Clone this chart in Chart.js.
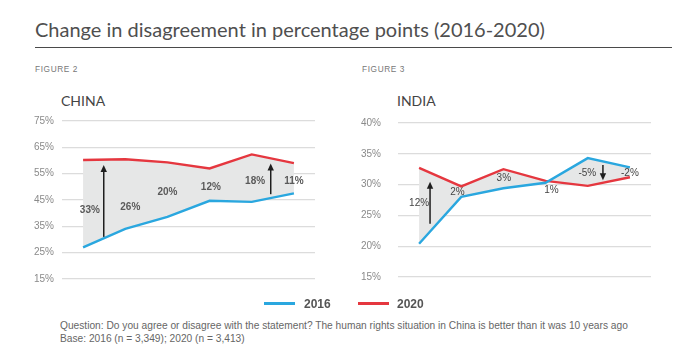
<!DOCTYPE html>
<html>
<head>
<meta charset="utf-8">
<script src="https://cdn.jsdelivr.net/npm/chart.js@4/dist/chart.umd.min.js"></script>
<style>
  html, body { margin:0; padding:0; background:#fff; }
  body { width:700px; height:359px; position:relative; overflow:hidden; font-family:"Liberation Sans", Arial, sans-serif; }
  .abs { position:absolute; white-space:nowrap; }
  #title { left:35px; top:17px; font-family:Lato, sans-serif; font-size:20px; color:#4f4f4f; }
  #rule { left:35px; top:47px; width:637px; height:0; border-top:1.5px solid #4a4a4a; }
  .fig { top:64px; font-size:8.3px; color:#777; letter-spacing:0.6px; }
  .country { top:92px; font-family:Lato, sans-serif; font-size:14px; color:#444; }
  canvas { position:absolute; }
  .leg-line { position:absolute; height:3px; top:302px; width:31px; }
  .leg-txt { top:297px; font-weight:bold; font-size:12px; color:#555; }
  .note { left:60px; font-size:10.2px; color:#666; }
</style>
</head>
<body>
<div class="abs" id="title">Change in disagreement in percentage points (2016-2020)</div>
<div class="abs" id="rule"></div>
<div class="abs fig" style="left:35px">FIGURE 2</div>
<div class="abs fig" style="left:362px">FIGURE 3</div>
<div class="abs country" style="left:61px">CHINA</div>
<div class="abs country" style="left:397px">INDIA</div>

<canvas id="china" width="330" height="200" style="left:0;top:100px;width:330px;height:200px"></canvas>
<canvas id="india" width="340" height="200" style="left:330px;top:100px;width:340px;height:200px"></canvas>

<div class="leg-line" style="left:264px;background:#2aa7df"></div>
<div class="abs leg-txt" style="left:304px">2016</div>
<div class="leg-line" style="left:358px;background:#e5373f"></div>
<div class="abs leg-txt" style="left:397px">2020</div>

<div class="abs note" style="top:320px">Question: Do you agree or disagree with the statement? The human rights situation in China is better than it was 10 years ago</div>
<div class="abs note" style="top:333px">Base: 2016 (n = 3,349); 2020 (n = 3,413)</div>

<script>
// ---- data ----
const categories = ['1', '2', '3', '4', '5', '6'];
const seriesNames = ['2016', '2020'];
const china2016 = [27, 34, 38.6, 44.7, 44.3, 47.5];
const china2020 = [60.2, 60.5, 59.3, 57, 62.3, 59];
const chinaChange = ['33%', '26%', '20%', '12%', '18%', '11%'];
const india2016 = [20.4, 28.0, 29.4, 30.3, 34.3, 32.8];
const india2020 = [32.7, 29.7, 32.5, 30.6, 29.8, 31.2];
const indiaChange = ['12%', '2%', '3%', '1%', '-5%', '-2%'];
const chinaTicks = [15, 25, 35, 45, 55, 65, 75];
const indiaTicks = [15, 20, 25, 30, 35, 40];

const BLUE = '#2aa7df', RED = '#e5373f', FILL = '#e6e7e7';

// annotation placement (in data units: x = category index, y = value)
const chinaNotes = {
  labelPos: [[0.16, 41.2], [1.12, 42.1], [2.0, 48.1], [3.03, 49.7], [4.08, 52.2], [5.0, 52.2]],
  arrows: [[0.49, 31.0, 58.3], [4.45, 47.2, 58.9]],
  font: 'bold 10px "Liberation Sans", Arial, sans-serif', color: '#5a5a5a'
};
const indiaNotes = {
  labelPos: [[0.0, 27.0], [0.91, 28.8], [2.01, 31.0], [3.14, 29.15], [3.99, 31.8], [5.0, 31.8]],
  arrows: [[0.26, 23.65, 30.45], [4.36, 33.2, 30.7]],
  font: '10px "Liberation Sans", Arial, sans-serif', color: '#444'
};

const notesPlugin = {
  id: 'notes',
  afterDatasetsDraw(chart, args, opts) {
    const { ctx, scales: { x, y } } = chart;
    const px = i => {
      const a = Math.floor(i), b = Math.min(a + 1, categories.length - 1);
      const pa = x.getPixelForValue(a), pb = x.getPixelForValue(b);
      return pa + (pb - pa) * (i - a);
    };
    ctx.save();
    ctx.font = opts.font; ctx.fillStyle = opts.color;
    ctx.textAlign = 'center'; ctx.textBaseline = 'middle';
    opts.texts.forEach((t, k) => {
      const [i, v] = opts.labelPos[k];
      ctx.fillText(t, px(i), y.getPixelForValue(v));
    });
    ctx.strokeStyle = '#1e1e1e'; ctx.fillStyle = '#1e1e1e'; ctx.lineWidth = 1.5;
    opts.arrows.forEach(([i, from, to]) => {
      const xx = px(i), y0 = y.getPixelForValue(from), y1 = y.getPixelForValue(to);
      const dir = y1 < y0 ? 1 : -1;
      ctx.beginPath(); ctx.moveTo(xx, y0); ctx.lineTo(xx, y1 + dir * 5); ctx.stroke();
      ctx.beginPath();
      ctx.moveTo(xx, y1);
      ctx.lineTo(xx - 3.2, y1 + dir * 7);
      ctx.lineTo(xx + 3.2, y1 + dir * 7);
      ctx.closePath(); ctx.fill();
    });
    ctx.restore();
  }
};

function makeChart(id, d16, d20, ticks, texts, notes, yWidth, padding, tickPad) {
  return new Chart(document.getElementById(id), {
    type: 'line',
    data: {
      labels: categories,
      datasets: [
        { label: seriesNames[0], data: d16, borderColor: BLUE, borderWidth: 2.4, pointRadius: 0, tension: 0, fill: false },
        { label: seriesNames[1], data: d20, borderColor: RED, borderWidth: 2.4, pointRadius: 0, tension: 0,
          fill: { target: 0 }, backgroundColor: FILL }
      ]
    },
    plugins: [notesPlugin],
    options: {
      responsive: false, animation: false, devicePixelRatio: 1,
      layout: { padding },
      plugins: {
        legend: { display: false }, tooltip: { enabled: false },
        filler: { drawTime: 'beforeDatasetsDraw' },
        notes: Object.assign({ texts }, notes)
      },
      scales: {
        x: { display: false, offset: true },
        y: {
          min: ticks[0], max: ticks[ticks.length - 1],
          afterBuildTicks: s => { s.ticks = ticks.map(v => ({ value: v })); },
          afterFit: s => { s.width = yWidth; },
          border: { display: false },
          grid: { color: '#dcdcdc', lineWidth: 1.3, drawTicks: false },
          ticks: { padding: tickPad, color: '#8a8a8a', font: { family: '"Liberation Sans", Arial, sans-serif', size: 10 },
                   callback: v => v + '%' }
        }
      }
    }
  });
}

makeChart('china', china2016, china2020, chinaTicks, chinaChange, chinaNotes, 62,
          { left: 0, right: 15, top: 21, bottom: 21 }, 8);
makeChart('india', india2016, india2020, indiaTicks, indiaChange, indiaNotes, 68,
          { left: 0, right: 19, top: 19, bottom: 22 }, 17);
</script>
</body>
</html>
